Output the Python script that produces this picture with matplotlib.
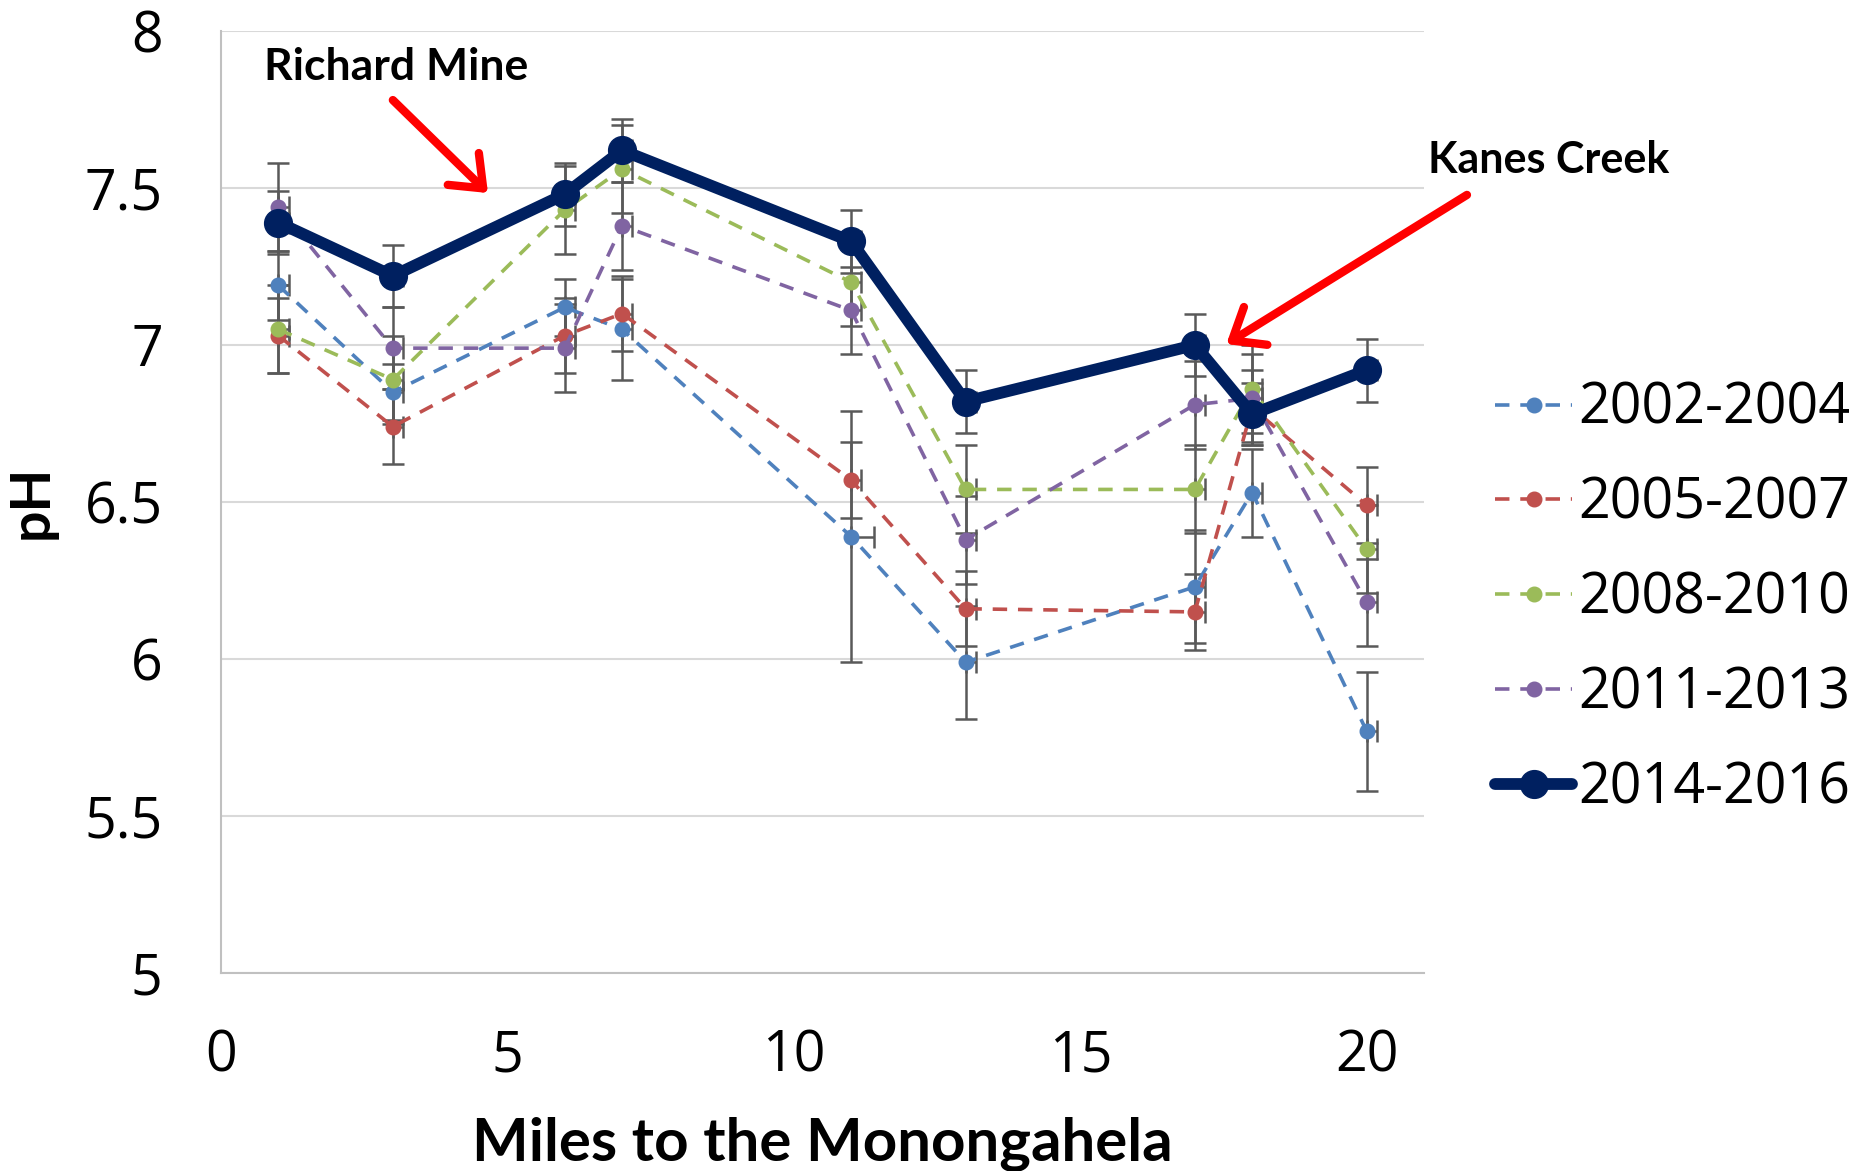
import matplotlib
matplotlib.use("Agg")
import matplotlib.pyplot as plt

# ---- data ----
miles = [1, 3, 6, 7, 11, 13, 17, 18, 20]
labels = ["2002-2004", "2005-2007", "2008-2010", "2011-2013", "2014-2016"]

ph_2002 = [7.19, 6.85, 7.12, 7.05, 6.39, 5.99, 6.23, 6.53, 5.77]
ph_2005 = [7.03, 6.74, 7.03, 7.10, 6.57, 6.16, 6.15, 6.80, 6.49]
ph_2008 = [7.05, 6.89, 7.43, 7.56, 7.20, 6.54, 6.54, 6.86, 6.35]
ph_2011 = [7.44, 6.99, 6.99, 7.38, 7.11, 6.38, 6.81, 6.83, 6.18]
ph_2014 = [7.39, 7.22, 7.48, 7.62, 7.33, 6.82, 7.00, 6.78, 6.92]

err_2002 = [0.11, 0.09, 0.09, 0.16, 0.40, 0.18, 0.18, 0.14, 0.19]
err_2005 = [0.12, 0.12, 0.12, 0.12, 0.12, 0.12, 0.12, 0.12, 0.12]
err_2008 = [0.14, 0.14, 0.14, 0.14, 0.14, 0.14, 0.14, 0.14, 0.14]
err_2011 = [0.14, 0.13, 0.14, 0.14, 0.14, 0.14, 0.14, 0.14, 0.14]
err_2014 = [0.10, 0.10, 0.10, 0.10, 0.10, 0.10, 0.10, 0.10, 0.10]

xerr_2002 = [0.18, 0.18, 0.18, 0.18, 0.40, 0.18, 0.18, 0.18, 0.18]
xerr_other = [0.18, 0.18, 0.18, 0.18, 0.18, 0.18, 0.18, 0.18, 0.18]

colors = ["#4F81BD", "#C0504D", "#9BBB59", "#8064A2", "#002060"]

series = [
    (ph_2002, err_2002, xerr_2002),
    (ph_2005, err_2005, xerr_other),
    (ph_2008, err_2008, xerr_other),
    (ph_2011, err_2011, xerr_other),
    (ph_2014, err_2014, xerr_other),
]

num_font = "Open Sans"
bold_font = "Lato"

fig = plt.figure(figsize=(18.62, 11.71), dpi=100)
ax = fig.add_axes([221 / 1862, 1 - 973 / 1171, (1424 - 221) / 1862, (973 - 31) / 1171])

handles = []
for i, ((y, e, xe), c, lab) in enumerate(zip(series, colors, labels)):
    ax.errorbar(miles, y, yerr=e, xerr=[[0] * len(xe), xe], fmt="none",
                ecolor="#595959", elinewidth=1.8, capsize=8, capthick=1.8, zorder=2)
    if i < 4:
        h, = ax.plot(miles, y, color=c, lw=2.6, dashes=(4, 3), marker="o",
                     markersize=10.5, label=lab, zorder=3)
    else:
        h, = ax.plot(miles, y, color=c, lw=8.5, marker="o", markersize=20,
                     label=lab, zorder=4, solid_capstyle="round", solid_joinstyle="round")
    handles.append(h)

ax.set_xlim(0, 21)
ax.set_ylim(5, 8)
ax.set_xticks([0, 5, 10, 15, 20])
ax.set_yticks([5, 5.5, 6, 6.5, 7, 7.5, 8])
ax.set_yticklabels(["5", "5.5", "6", "6.5", "7", "7.5", "8"])
ax.grid(axis="y", color="#D9D9D9", lw=1.5, zorder=0)
ax.set_axisbelow(True)
for s in ["top", "right"]:
    ax.spines[s].set_visible(False)
for s in ["left", "bottom"]:
    ax.spines[s].set_color("#C0C0C0")
    ax.spines[s].set_linewidth(1.5)
ax.tick_params(axis="both", length=0, labelsize=40)
ax.tick_params(axis="y", pad=42)
ax.tick_params(axis="x", pad=40)
for t in ax.get_xticklabels() + ax.get_yticklabels():
    t.set_fontfamily(num_font)

ax.set_xlabel("Miles to the Monongahela", fontsize=43.2, fontweight="bold",
              family=bold_font, labelpad=23)
ax.set_ylabel("pH", fontsize=40, fontweight="bold", family=bold_font, labelpad=20)

# annotations
ax.text(0.75, 7.844, "Richard Mine", fontsize=32, fontweight="bold", family=bold_font,
        ha="left", va="baseline")
ax.text(21.07, 7.548, "Kanes Creek", fontsize=31, fontweight="bold", family=bold_font,
        ha="left", va="baseline", clip_on=False)
arrow = dict(arrowstyle="->,head_length=0.5,head_width=0.4", color="red", lw=6,
             mutation_scale=40, shrinkA=0, shrinkB=0)
ax.annotate("", xy=(4.66, 7.484), xytext=(3.0, 7.78), arrowprops=arrow,
            annotation_clip=False)
ax.annotate("", xy=(17.55, 7.003), xytext=(21.75, 7.478), arrowprops=arrow,
            annotation_clip=False)

leg = fig.legend(handles=handles, labels=labels, loc="center left",
                 bbox_to_anchor=(1495 / 1862, 1 - 599 / 1171), frameon=False,
                 prop={"family": num_font, "size": 40}, handlelength=1.39,
                 handletextpad=0.1, labelspacing=0.68, borderpad=0, borderaxespad=0)

fig.savefig("out.png", dpi=100)
